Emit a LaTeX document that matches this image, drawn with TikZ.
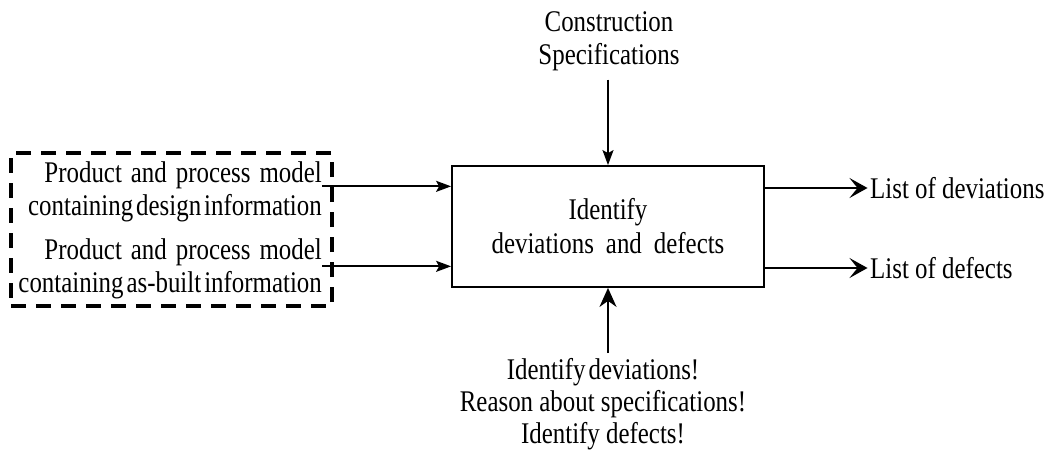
\documentclass[tikz,border=0pt]{standalone}
\usepackage{fontspec}
\setmainfont[FakeStretch=0.83]{Liberation Serif}
\usetikzlibrary{arrows.meta}
\newcommand\nsp{\hspace{3pt}}
\newcommand\msp{\hspace{9pt}}
\newcommand\wsp{\hspace{12pt}}
\tikzset{
  txt/.style={font=\fontsize{30}{33}\selectfont, inner sep=0pt},
  mainbox/.style={draw, line width=1.8pt, minimum width=312pt, minimum height=121pt, inner sep=0pt, align=center, font=\fontsize{30}{34}\selectfont},
  dashbox/.style={draw, line width=3.5pt, dash pattern=on 15pt off 10pt, minimum width=321pt, minimum height=153pt, inner sep=0pt},
  conn/.style={line width=1.8pt},
  inarr/.style={conn, -{Stealth[length=15pt,width=11pt,inset=3pt]}},
  outarr/.style={conn, -{Stealth[length=18pt,width=20pt,inset=8pt]}},
  uparr/.style={conn, -{Stealth[length=19pt,width=17pt,inset=6pt]}}
}
\begin{document}
\begin{tikzpicture}[x=1pt,y=-1pt]
\useasboundingbox (0,0) rectangle (1052,452);
\node[mainbox] (box) at (608,226.5) {Identify\\deviations\wsp and\wsp defects};
\node[dashbox] (group) at (171.5,229.5) {};
\node[txt, align=right, anchor=north east] (in1) at (322,161) {Product\msp and\msp process\msp model\\containing\nsp design\nsp information};
\node[txt, align=right, anchor=north east] (in2) at (322,238) {Product\msp and\msp process\msp model\\containing\nsp as-built\nsp information};
\node[txt, align=center, anchor=north] (spec) at (609,11) {Construction\\Specifications};
\node[txt, align=center, anchor=north, font=\fontsize{30}{32}\selectfont] (mech) at (603,358) {Identify\nsp deviations!\\Reason about specifications!\\Identify defects!};
\node[txt, anchor=west, inner sep=2.5pt] (out1) at (867.5,188) {List of deviations};
\node[txt, anchor=west, inner sep=2.5pt] (out2) at (867.5,268) {List of defects};
\draw[inarr] ([yshift=5pt]in1.east) -- ([yshift=5pt]in1.east -| box.west);
\draw[inarr] ([yshift=2pt]in2.east) -- ([yshift=2pt]in2.east -| box.west);
\draw[inarr] ([yshift=-9pt]spec.south -| box.north) -- (box.north);
\draw[uparr] ([yshift=5pt]mech.north -| box.south) -- (box.south);
\draw[outarr] (box.east |- out1.west) -- (out1.west);
\draw[outarr] (box.east |- out2.west) -- (out2.west);
\end{tikzpicture}
\end{document}
